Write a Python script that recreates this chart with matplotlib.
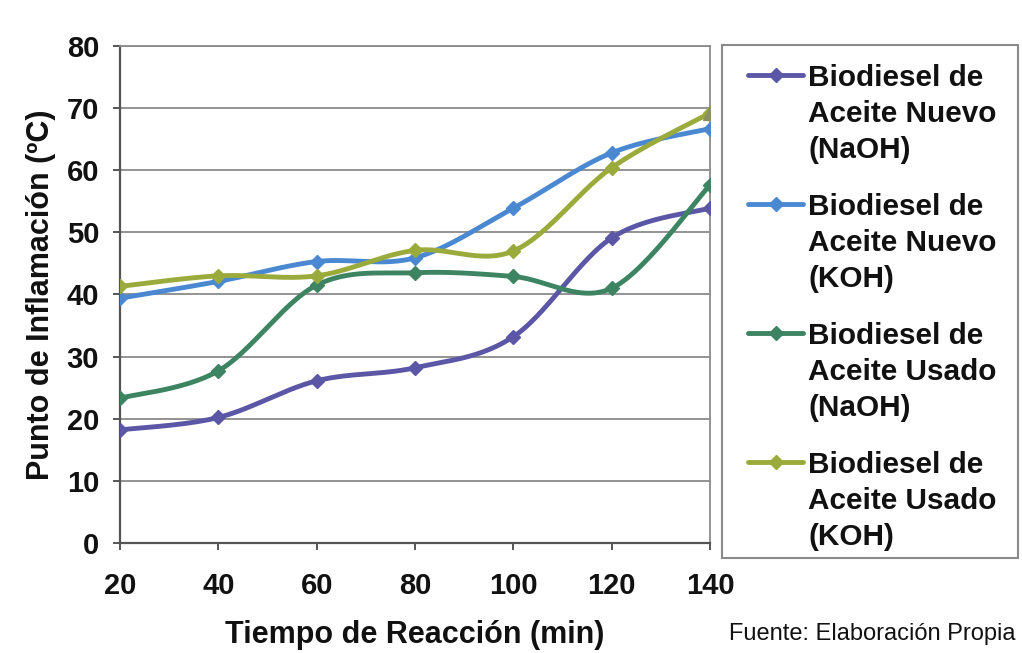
import numpy as np
import matplotlib
matplotlib.use('Agg')
import matplotlib.pyplot as plt
from matplotlib.lines import Line2D
from matplotlib.patches import Rectangle

plt.rcParams['font.family'] = ['Liberation Sans', 'DejaVu Sans']

# Flash point vs. reaction time
tiempo = [20, 40, 60, 80, 100, 120, 140]
nuevo_naoh = [18.2, 20.2, 26.1, 28.2, 33.2, 49.1, 53.9]
nuevo_koh = [39.4, 42.1, 45.3, 45.9, 53.9, 62.8, 66.7]
usado_naoh = [23.3, 27.7, 41.5, 43.5, 42.9, 41.0, 57.6]
usado_koh = [41.3, 43.0, 43.0, 47.1, 47.0, 60.4, 69.2]

series = [
    (nuevo_naoh, '#5b57a6', ['Biodiesel de', 'Aceite Nuevo', '(NaOH)']),
    (nuevo_koh, '#4a88d2', ['Biodiesel de', 'Aceite Nuevo', '(KOH)']),
    (usado_naoh, '#3d8463', ['Biodiesel de', 'Aceite Usado', '(NaOH)']),
    (usado_koh, '#9aab3c', ['Biodiesel de', 'Aceite Usado', '(KOH)']),
]


def smooth(x, y, n=30):
    # Excel-style smoothed line: Bezier segments through each point
    x = np.asarray(x, float)
    y = np.asarray(y, float)
    px = np.concatenate([[x[0]], x, [x[-1]]])
    py = np.concatenate([[y[0]], y, [y[-1]]])
    xs, ys = [], []
    t = np.linspace(0, 1, n)
    for i in range(1, len(px) - 2):
        p0 = np.array([px[i], py[i]])
        p3 = np.array([px[i + 1], py[i + 1]])
        p1 = p0 + (np.array([px[i + 1], py[i + 1]]) - np.array([px[i - 1], py[i - 1]])) / 6
        p2 = p3 - (np.array([px[i + 2], py[i + 2]]) - np.array([px[i], py[i]])) / 6
        b = ((1 - t) ** 3)[:, None] * p0 + (3 * (1 - t) ** 2 * t)[:, None] * p1 \
            + (3 * (1 - t) * t ** 2)[:, None] * p2 + (t ** 3)[:, None] * p3
        xs.append(b[:, 0])
        ys.append(b[:, 1])
    return np.concatenate(xs), np.concatenate(ys)


fig = plt.figure(figsize=(10.22, 6.53), dpi=100)
ax = fig.add_axes([0.1174, 0.1685, 0.5773, 0.7611])

for vals, color, _ in series:
    sx, sy = smooth(tiempo, vals)
    ax.plot(sx, sy, color=color, linewidth=3.5, solid_capstyle='round', zorder=3)
    ax.plot(tiempo, vals, linestyle='none', marker='D', markersize=7,
            color=color, zorder=4)
# last point of the used-oil KOH series is a triangle
ax.plot(tiempo[-1], usado_koh[-1], marker='^', markersize=10, color='#8a9060',
        linestyle='none', zorder=5)

ax.set_xlim(20, 140)
ax.set_ylim(0, 80)
ax.set_xticks(tiempo)
ax.set_yticks(range(0, 81, 10))
ax.yaxis.grid(True, color='#8a8a8a', linewidth=1.3)
ax.set_axisbelow(True)
for side in ['left', 'bottom']:
    ax.spines[side].set_color('#555555')
    ax.spines[side].set_linewidth(1.6)
for side in ['top', 'right']:
    ax.spines[side].set_color('#8a8a8a')
    ax.spines[side].set_linewidth(1.3)
ax.tick_params(axis='both', direction='out', length=5, width=1.4, color='#555555',
               labelsize=21, labelcolor='#111111')
ax.tick_params(axis='x', pad=16)
ax.tick_params(axis='y', pad=10)
for lab in ax.get_xticklabels() + ax.get_yticklabels():
    lab.set_fontweight('bold')

ax.set_xlabel('Tiempo de Reacción (min)', fontsize=22, fontweight='bold',
              color='#111111', labelpad=14)
ax.set_ylabel('Punto de Inflamación (ºC)', fontsize=22, fontweight='bold',
              color='#111111', labelpad=8)

fig.text(0.9935, 0.029, 'Fuente: Elaboración Propia', ha='right', va='center',
         fontsize=17, color='#111111')

# legend drawn in its own box
lx0, ly0, lw, lh = 722, 45, 296, 513
fig.patches.append(Rectangle((lx0 / 1022, 1 - (ly0 + lh) / 653), lw / 1022, lh / 653,
                             transform=fig.transFigure, facecolor='white',
                             edgecolor='#8a8a8a', linewidth=1.5))
for k, (vals, color, lines) in enumerate(series):
    y0 = 75 + k * 129
    fig.lines.append(Line2D([748 / 1022, 803 / 1022], [1 - y0 / 653, 1 - y0 / 653],
                            transform=fig.transFigure, color=color, linewidth=3.5,
                            solid_capstyle='round'))
    fig.lines.append(Line2D([775.5 / 1022], [1 - y0 / 653], transform=fig.transFigure,
                            color=color, marker='D', markersize=7, linestyle='none'))
    for j, txt in enumerate(lines):
        fig.text(808 / 1022, 1 - (y0 + 3 + j * 36) / 653, txt, ha='left', va='center',
                 fontsize=21.4, fontweight='bold', color='#111111')

fig.savefig('out.png', dpi=100, facecolor='white')
